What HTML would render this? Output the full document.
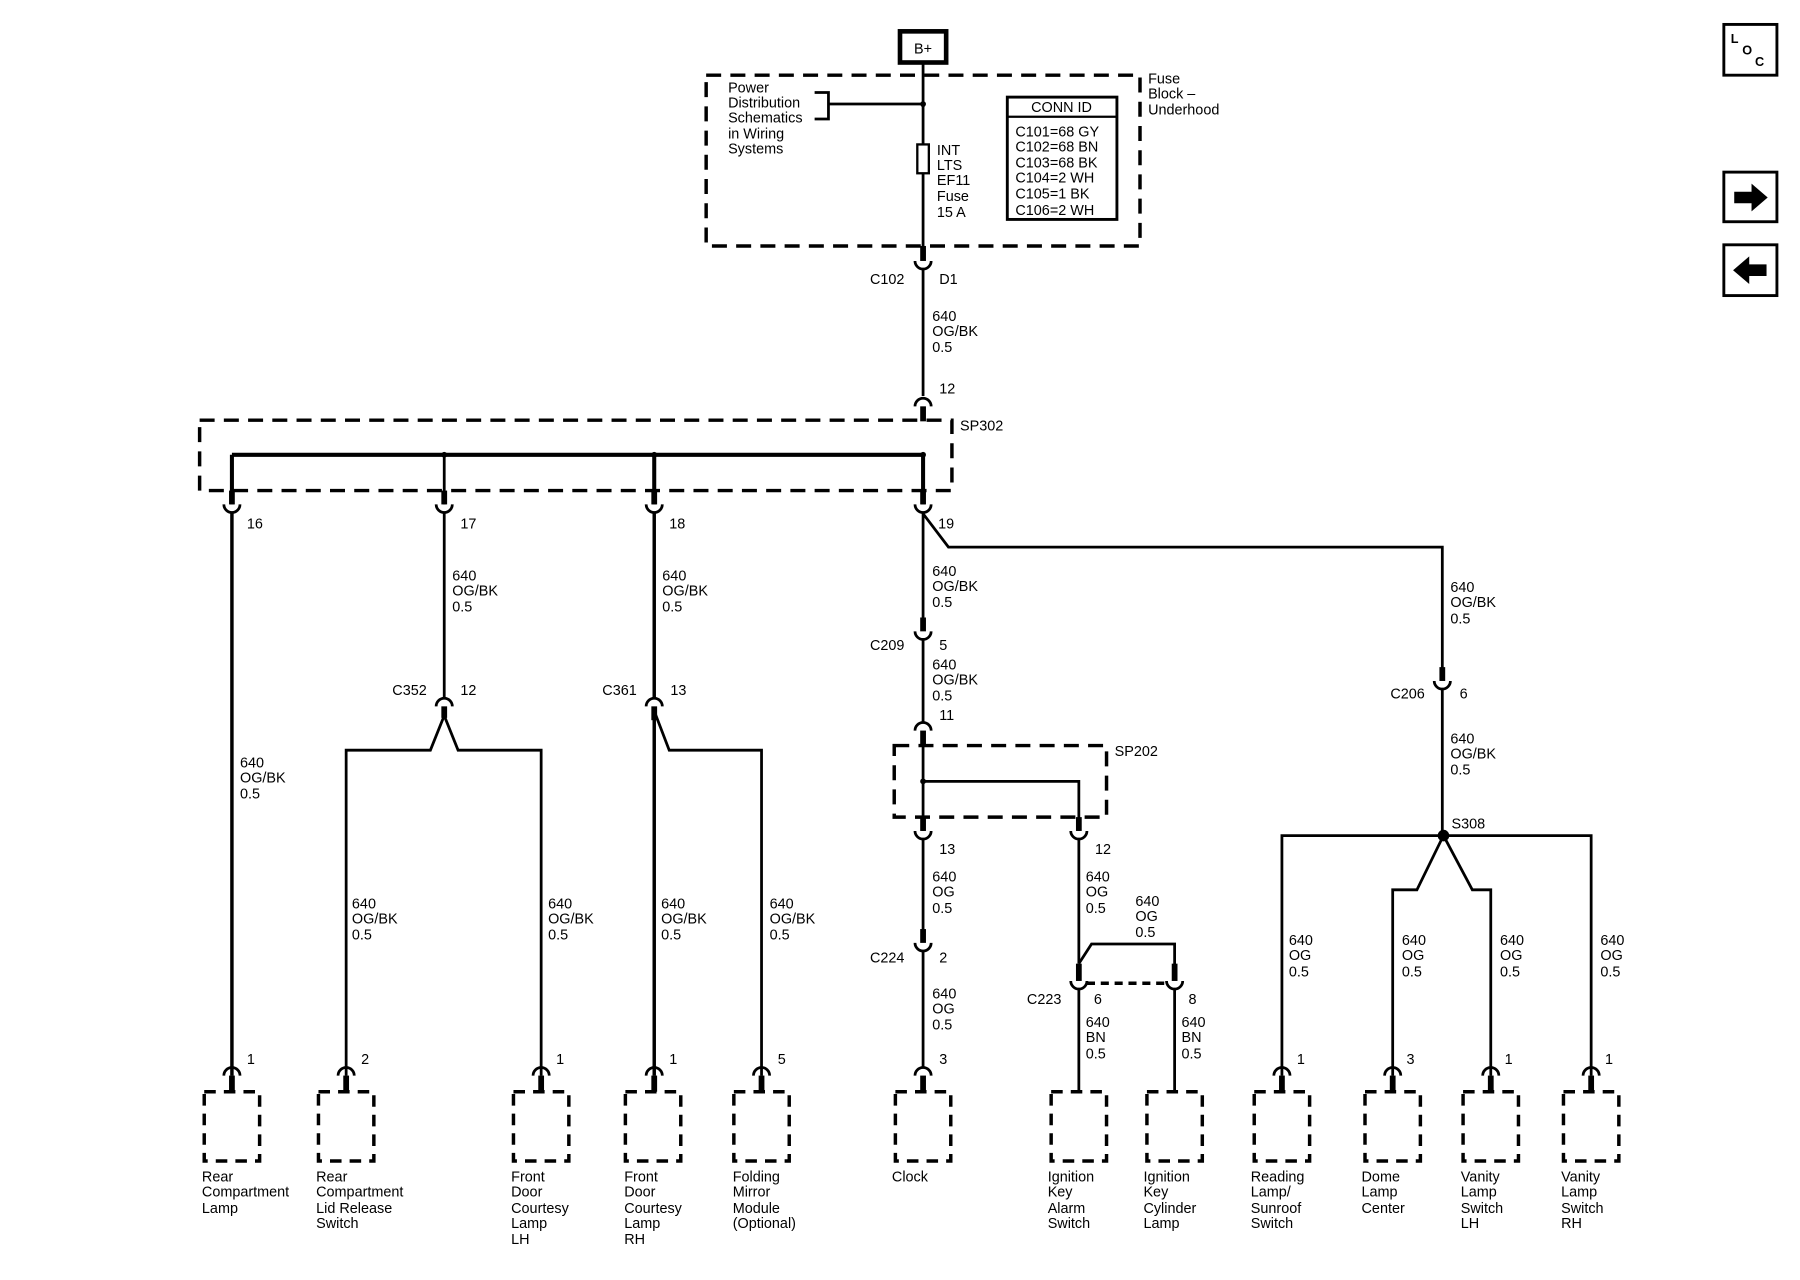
<!DOCTYPE html>
<html><head><meta charset="utf-8"><style>
html,body{margin:0;padding:0;background:#fff;}
svg{display:block;}
text{font-family:"Liberation Sans",sans-serif;font-size:12.5px;fill:#000;}
.w{stroke:#000;stroke-width:2.4;fill:none;}
.t{stroke:#000;stroke-width:5;fill:none;}
.d{stroke:#000;stroke-width:3;fill:none;stroke-dasharray:13 8;}
.a{stroke:#000;stroke-width:2.4;fill:none;}
</style></head><body>
<svg width="1800" height="1280" viewBox="0 0 1560 1109" xmlns="http://www.w3.org/2000/svg">
<!-- B+ -->
<rect x="780" y="27" width="40" height="27" fill="none" stroke="#000" stroke-width="4"/>
<text x="800" y="46" text-anchor="middle">B+</text>
<!-- fuse block -->
<rect x="612" y="65" width="376" height="148" class="d"/>
<text x="995" y="72">Fuse</text><text x="995" y="85">Block –</text><text x="995" y="99">Underhood</text>
<text x="631" y="80">Power</text><text x="631" y="93">Distribution</text><text x="631" y="106">Schematics</text><text x="631" y="120">in Wiring</text><text x="631" y="133">Systems</text>
<path class="w" d="M706 80H718V103H706M718 90H800"/>
<circle cx="800" cy="90" r="2.5"/>
<line class="w" x1="800" y1="55" x2="800" y2="213"/>
<rect x="795" y="125" width="10" height="25" fill="#fff" stroke="#000" stroke-width="2"/>
<text x="812" y="134">INT</text><text x="812" y="147">LTS</text><text x="812" y="160">EF11</text><text x="812" y="174">Fuse</text><text x="812" y="188">15 A</text>
<rect x="873" y="84" width="95" height="106" fill="none" stroke="#000" stroke-width="2.5"/>
<line x1="873" y1="101" x2="968" y2="101" stroke="#000" stroke-width="2"/>
<text x="920" y="97" text-anchor="middle">CONN ID</text>
<text x="880" y="118">C101=68 GY</text><text x="880" y="131">C102=68 BN</text><text x="880" y="145">C103=68 BK</text><text x="880" y="158">C104=2 WH</text><text x="880" y="172">C105=1 BK</text><text x="880" y="186">C106=2 WH</text>
<!-- C102 -->
<line class="t" x1="800" y1="213" x2="800" y2="226"/>
<path class="a" d="M793 226A7 7 0 0 0 807 226"/>
<text x="754" y="246">C102</text><text x="814" y="246">D1</text>
<line class="w" x1="800" y1="233" x2="800" y2="343"/>
<text x="808" y="278">640</text><text x="808" y="291">OG/BK</text><text x="808" y="305">0.5</text>
<text x="814" y="341">12</text>
<path class="a" d="M793 352A7 7 0 0 1 807 352"/>
<line class="t" x1="800" y1="352" x2="800" y2="365"/>
<!-- SP302 -->
<rect x="173" y="364" width="652" height="61" class="d"/>
<text x="832" y="373">SP302</text>
<path class="w" d="M201 394H800V437" style="stroke-width:3.5"/>
<line class="w" x1="201" y1="394" x2="201" y2="437" style="stroke-width:3.5"/>
<line class="w" x1="385" y1="394" x2="385" y2="437"/>
<line class="w" x1="567" y1="394" x2="567" y2="437" style="stroke-width:3.5"/>
<circle cx="385" cy="394" r="2.5"/><circle cx="567" cy="394" r="2.5"/><circle cx="800" cy="394" r="2.5"/>
<g class="t"><line x1="201" y1="425" x2="201" y2="437"/><line x1="385" y1="425" x2="385" y2="437"/><line x1="567" y1="425" x2="567" y2="437"/><line x1="800" y1="425" x2="800" y2="437"/></g>
<g class="a"><path d="M194 437A7 7 0 0 0 208 437"/><path d="M378 437A7 7 0 0 0 392 437"/><path d="M560 437A7 7 0 0 0 574 437"/><path d="M793 437A7 7 0 0 0 807 437"/></g>
<text x="214" y="458">16</text><text x="399" y="458">17</text><text x="580" y="458">18</text><text x="813" y="458">19</text>
<!-- wire 201 -->
<line class="w" x1="201" y1="444" x2="201" y2="932" style="stroke-width:3"/>
<text x="208" y="665">640</text><text x="208" y="678">OG/BK</text><text x="208" y="692">0.5</text>
<!-- wire 385 / C352 -->
<line class="w" x1="385" y1="444" x2="385" y2="605"/>
<text x="392" y="503">640</text><text x="392" y="516">OG/BK</text><text x="392" y="530">0.5</text>
<text x="340" y="602">C352</text><text x="399" y="602">12</text>
<path class="a" d="M378 612A7 7 0 0 1 392 612"/>
<line class="t" x1="385" y1="612" x2="385" y2="622"/>
<path class="w" d="M385 620L373 650H300V932M385 620L397 650H469V932"/>
<!-- wire 567 / C361 -->
<line class="w" x1="567" y1="444" x2="567" y2="605" style="stroke-width:3"/>
<text x="574" y="503">640</text><text x="574" y="516">OG/BK</text><text x="574" y="530">0.5</text>
<text x="522" y="602">C361</text><text x="581" y="602">13</text>
<path class="a" d="M560 612A7 7 0 0 1 574 612"/>
<line class="t" x1="567" y1="612" x2="567" y2="624"/>
<path class="w" d="M567 620V932" style="stroke-width:3"/>
<path class="w" d="M567 616L580 650H660V932"/>
<text x="305" y="787">640</text><text x="305" y="800">OG/BK</text><text x="305" y="814">0.5</text>
<text x="475" y="787">640</text><text x="475" y="800">OG/BK</text><text x="475" y="814">0.5</text>
<text x="573" y="787">640</text><text x="573" y="800">OG/BK</text><text x="573" y="814">0.5</text>
<text x="667" y="787">640</text><text x="667" y="800">OG/BK</text><text x="667" y="814">0.5</text>
<!-- center branch -->
<line class="w" x1="800" y1="444" x2="800" y2="540"/>
<path class="w" d="M800 445L822 474H1250V585"/>
<text x="808" y="499">640</text><text x="808" y="512">OG/BK</text><text x="808" y="526">0.5</text>
<line class="t" x1="800" y1="535" x2="800" y2="547"/>
<path class="a" d="M793 547A7 7 0 0 0 807 547"/>
<text x="754" y="563">C209</text><text x="814" y="563">5</text>
<line class="w" x1="800" y1="554" x2="800" y2="626"/>
<text x="808" y="580">640</text><text x="808" y="593">OG/BK</text><text x="808" y="607">0.5</text>
<text x="814" y="624">11</text>
<path class="a" d="M793 633A7 7 0 0 1 807 633"/>
<line class="t" x1="800" y1="633" x2="800" y2="646"/>
<!-- SP202 -->
<rect x="775" y="646" width="184" height="62" class="d"/>
<text x="966" y="655">SP202</text>
<line class="w" x1="800" y1="646" x2="800" y2="720"/>
<path class="w" d="M800 677H935V720"/>
<circle cx="800" cy="677" r="2.5"/>
<line class="t" x1="800" y1="708" x2="800" y2="720"/><line class="t" x1="935" y1="708" x2="935" y2="720"/>
<path class="a" d="M793 720A7 7 0 0 0 807 720"/><path class="a" d="M928 720A7 7 0 0 0 942 720"/>
<text x="814" y="740">13</text><text x="949" y="740">12</text>
<line class="w" x1="800" y1="727" x2="800" y2="815"/>
<text x="808" y="764">640</text><text x="808" y="777">OG</text><text x="808" y="791">0.5</text>
<line class="t" x1="800" y1="805" x2="800" y2="817"/>
<path class="a" d="M793 817A7 7 0 0 0 807 817"/>
<text x="754" y="834">C224</text><text x="814" y="834">2</text>
<line class="w" x1="800" y1="824" x2="800" y2="925"/>
<text x="808" y="865">640</text><text x="808" y="878">OG</text><text x="808" y="892">0.5</text>
<text x="814" y="922">3</text>
<!-- C223 -->
<line class="w" x1="935" y1="727" x2="935" y2="835"/>
<text x="941" y="764">640</text><text x="941" y="777">OG</text><text x="941" y="791">0.5</text>
<path class="w" d="M935 835L946 818H1018V840"/>
<text x="984" y="785">640</text><text x="984" y="798">OG</text><text x="984" y="812">0.5</text>
<line class="t" x1="935" y1="835" x2="935" y2="850"/><line class="t" x1="1018" y1="835" x2="1018" y2="850"/>
<path class="a" d="M928 850A7 7 0 0 0 942 850"/><path class="a" d="M1011 850A7 7 0 0 0 1025 850"/>
<line x1="942" y1="852" x2="1011" y2="852" stroke="#000" stroke-width="3" stroke-dasharray="7 5"/>
<text x="890" y="870">C223</text><text x="948" y="870">6</text><text x="1030" y="870">8</text>
<line class="w" x1="935" y1="857" x2="935" y2="945"/><line class="w" x1="1018" y1="857" x2="1018" y2="945"/>
<text x="941" y="890">640</text><text x="941" y="903">BN</text><text x="941" y="917">0.5</text>
<text x="1024" y="890">640</text><text x="1024" y="903">BN</text><text x="1024" y="917">0.5</text>
<!-- right -->
<text x="1257" y="513">640</text><text x="1257" y="526">OG/BK</text><text x="1257" y="540">0.5</text>
<line class="t" x1="1250" y1="578" x2="1250" y2="590"/>
<path class="a" d="M1243 590A7 7 0 0 0 1257 590"/>
<text x="1205" y="605">C206</text><text x="1265" y="605">6</text>
<line class="w" x1="1250" y1="597" x2="1250" y2="724"/>
<text x="1257" y="644">640</text><text x="1257" y="657">OG/BK</text><text x="1257" y="671">0.5</text>
<circle cx="1251" cy="724" r="5"/>
<text x="1258" y="718">S308</text>
<path class="w" d="M1111 932V724H1379V932M1251 724L1228 771H1207V932M1251 724L1276 771H1292V932"/>
<text x="1117" y="819">640</text><text x="1117" y="832">OG</text><text x="1117" y="846">0.5</text>
<text x="1215" y="819">640</text><text x="1215" y="832">OG</text><text x="1215" y="846">0.5</text>
<text x="1300" y="819">640</text><text x="1300" y="832">OG</text><text x="1300" y="846">0.5</text>
<text x="1387" y="819">640</text><text x="1387" y="832">OG</text><text x="1387" y="846">0.5</text>
<!-- bottom connectors -->
<g class="a">
<path d="M194 932A7 7 0 0 1 208 932"/><path d="M293 932A7 7 0 0 1 307 932"/><path d="M462 932A7 7 0 0 1 476 932"/><path d="M560 932A7 7 0 0 1 574 932"/><path d="M653 932A7 7 0 0 1 667 932"/><path d="M793 932A7 7 0 0 1 807 932"/>
<path d="M1104 932A7 7 0 0 1 1118 932"/><path d="M1200 932A7 7 0 0 1 1214 932"/><path d="M1285 932A7 7 0 0 1 1299 932"/><path d="M1372 932A7 7 0 0 1 1386 932"/>
</g>
<g class="t">
<line x1="201" y1="932" x2="201" y2="946"/><line x1="300" y1="932" x2="300" y2="946"/><line x1="469" y1="932" x2="469" y2="946"/><line x1="567" y1="932" x2="567" y2="946"/><line x1="660" y1="932" x2="660" y2="946"/><line x1="800" y1="932" x2="800" y2="946"/>
<line x1="1111" y1="932" x2="1111" y2="946"/><line x1="1207" y1="932" x2="1207" y2="946"/><line x1="1292" y1="932" x2="1292" y2="946"/><line x1="1379" y1="932" x2="1379" y2="946"/>
</g>
<text x="214" y="922">1</text><text x="313" y="922">2</text><text x="482" y="922">1</text><text x="580" y="922">1</text><text x="674" y="922">5</text>
<text x="1124" y="922">1</text><text x="1219" y="922">3</text><text x="1304" y="922">1</text><text x="1391" y="922">1</text>
<g class="d" style="stroke-dasharray:10 7">
<rect x="177" y="946" width="48" height="60"/><rect x="276" y="946" width="48" height="60"/><rect x="445" y="946" width="48" height="60"/><rect x="542" y="946" width="48" height="60"/><rect x="636" y="946" width="48" height="60"/><rect x="776" y="946" width="48" height="60"/>
<rect x="911" y="946" width="48" height="60"/><rect x="994" y="946" width="48" height="60"/><rect x="1087" y="946" width="48" height="60"/><rect x="1183" y="946" width="48" height="60"/><rect x="1268" y="946" width="48" height="60"/><rect x="1355" y="946" width="48" height="60"/>
</g>
<text x="175" y="1024">Rear</text><text x="175" y="1037">Compartment</text><text x="175" y="1051">Lamp</text>
<text x="274" y="1024">Rear</text><text x="274" y="1037">Compartment</text><text x="274" y="1051">Lid Release</text><text x="274" y="1064">Switch</text>
<text x="443" y="1024">Front</text><text x="443" y="1037">Door</text><text x="443" y="1051">Courtesy</text><text x="443" y="1064">Lamp</text><text x="443" y="1078">LH</text>
<text x="541" y="1024">Front</text><text x="541" y="1037">Door</text><text x="541" y="1051">Courtesy</text><text x="541" y="1064">Lamp</text><text x="541" y="1078">RH</text>
<text x="635" y="1024">Folding</text><text x="635" y="1037">Mirror</text><text x="635" y="1051">Module</text><text x="635" y="1064">(Optional)</text>
<text x="773" y="1024">Clock</text>
<text x="908" y="1024">Ignition</text><text x="908" y="1037">Key</text><text x="908" y="1051">Alarm</text><text x="908" y="1064">Switch</text>
<text x="991" y="1024">Ignition</text><text x="991" y="1037">Key</text><text x="991" y="1051">Cylinder</text><text x="991" y="1064">Lamp</text>
<text x="1084" y="1024">Reading</text><text x="1084" y="1037">Lamp/</text><text x="1084" y="1051">Sunroof</text><text x="1084" y="1064">Switch</text>
<text x="1180" y="1024">Dome</text><text x="1180" y="1037">Lamp</text><text x="1180" y="1051">Center</text>
<text x="1266" y="1024">Vanity</text><text x="1266" y="1037">Lamp</text><text x="1266" y="1051">Switch</text><text x="1266" y="1064">LH</text>
<text x="1353" y="1024">Vanity</text><text x="1353" y="1037">Lamp</text><text x="1353" y="1051">Switch</text><text x="1353" y="1064">RH</text>
<!-- side icons -->
<rect x="1494" y="21" width="46" height="44" fill="none" stroke="#000" stroke-width="2.5"/>
<text x="1500" y="37" style="font-size:11px;font-weight:bold">L</text><text x="1510" y="47" style="font-size:11px;font-weight:bold">O</text><text x="1521" y="57" style="font-size:11px;font-weight:bold">C</text>
<rect x="1494" y="149" width="46" height="43" fill="none" stroke="#000" stroke-width="2.5"/>
<path d="M1503 166H1518V159L1532 171L1518 183V176H1503Z"/>
<rect x="1494" y="212" width="46" height="44" fill="none" stroke="#000" stroke-width="2.5"/>
<path d="M1531 229H1516V222L1502 234L1516 246V239H1531Z"/>
</svg>
</body></html>
